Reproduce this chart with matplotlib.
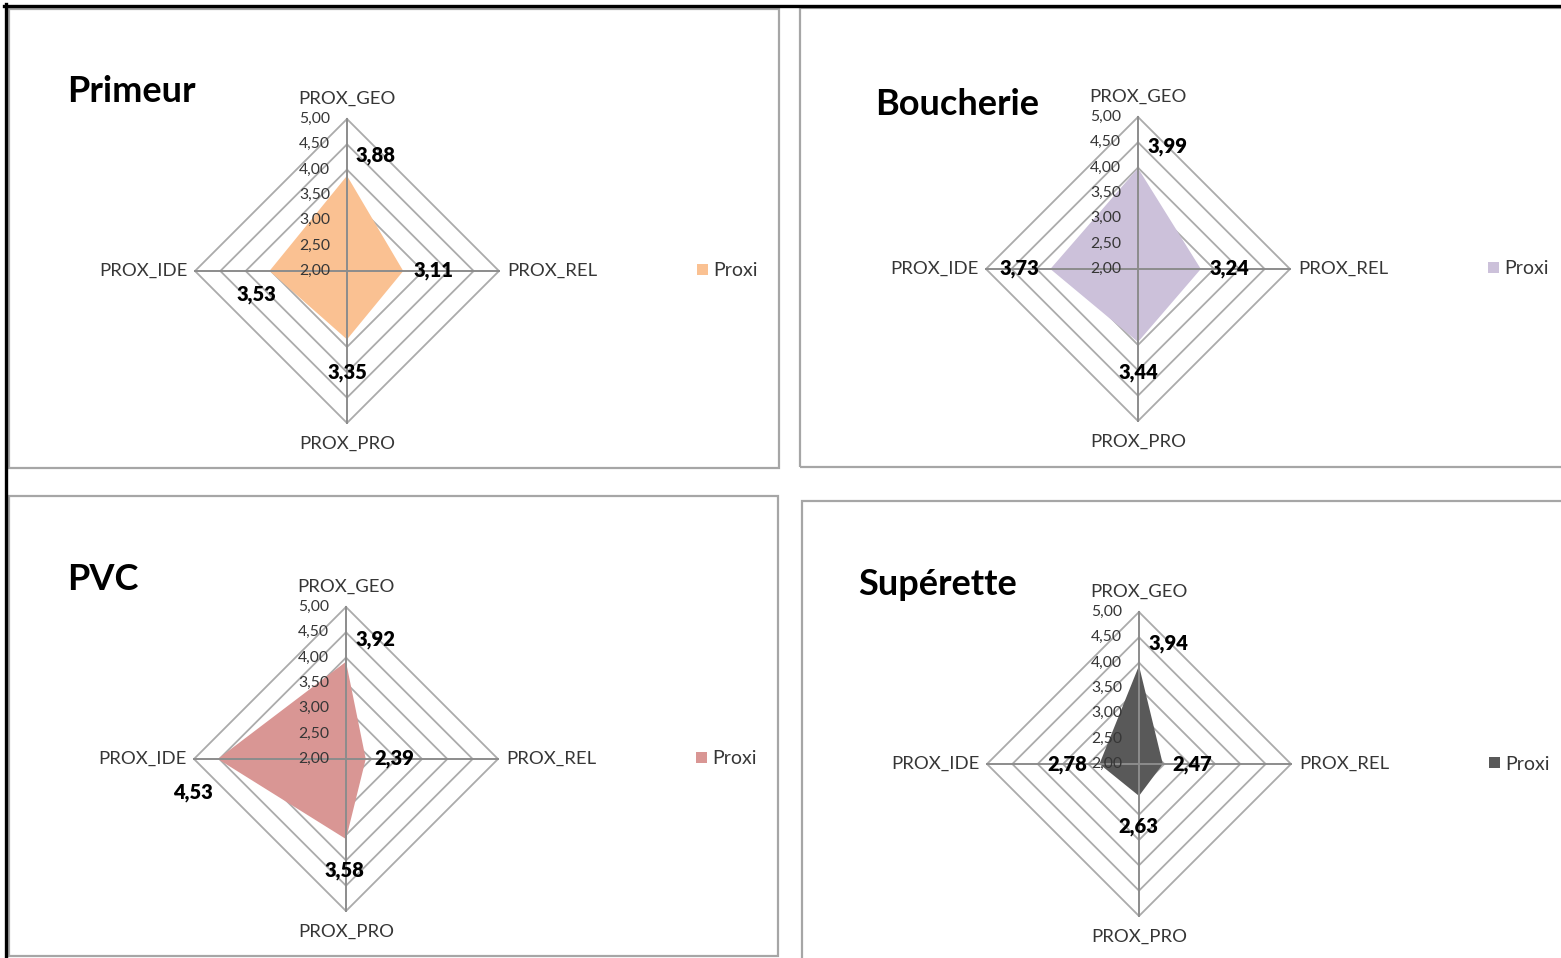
import numpy as np
import matplotlib
matplotlib.use("Agg")
import matplotlib.pyplot as plt
from matplotlib.patches import Rectangle, Patch

# ---- data -------------------------------------------------------------
axes_labels = ["PROX_GEO", "PROX_REL", "PROX_PRO", "PROX_IDE"]
series_name = "Proxi"
shops = ["Primeur", "Boucherie", "PVC", "Supérette"]

primeur = [3.88, 3.11, 3.35, 3.53]
boucherie = [3.99, 3.24, 3.44, 3.73]
pvc = [3.92, 2.39, 3.58, 4.53]
superette = [3.94, 2.47, 2.63, 2.78]

scale_levels = [2.0, 2.5, 3.0, 3.5, 4.0, 4.5, 5.0]

# ---- layout -----------------------------------------------------------
W, H = 1561, 958
plt.rcParams["font.family"] = ["Lato", "DejaVu Sans"]

fig = plt.figure(figsize=(W / 100, H / 100), dpi=100)
fig.patch.set_facecolor("white")


def fx(x):
    return x / W


def fy(y):
    return 1 - y / H


panels = [
    dict(name=shops[0], vals=primeur, color="#FAC192",
         center=(347, 271), box=(9, 9, 779, 468), title=(67, 102),
         legend=(697, 271),
         offs=[(29, 20), (30, 0), (0, -33), (-13, -24)]),
    dict(name=shops[1], vals=boucherie, color="#CCC1DA",
         center=(1138, 269), box=(800, 8, 1575, 467), title=(875, 115),
         legend=(1488, 269),
         offs=[(30, 22), (29, 0), (0, -31), (-31, 0)]),
    dict(name=shops[2], vals=pvc, color="#D99694",
         center=(346, 759), box=(9, 496, 778, 956), title=(67, 590),
         legend=(696, 759),
         offs=[(29, 22), (29, 0), (-2, -31), (-25, -33)]),
    dict(name=shops[3], vals=superette, color="#595959",
         center=(1139, 764), box=(802, 501, 1575, 975), title=(858, 595),
         legend=(1489, 764),
         offs=[(29, 22), (29, 0), (-1, -31), (-32, 0)]),
]

R = 152
thetas = np.array([0, np.pi / 2, np.pi, 3 * np.pi / 2])
closed = np.append(thetas, thetas[0])

grid_col = "#ABABAB"
spoke_col = "#8C8C8C"
text_col = "#363636"

for p in panels:
    # panel frame
    x0, y0, x1, y1 = p["box"]
    fig.add_artist(Rectangle((fx(x0), fy(y1)), fx(x1) - fx(x0), fy(y0) - fy(y1),
                             transform=fig.transFigure, fill=False,
                             edgecolor="#A6A6A6", linewidth=1.6, zorder=0))

    cx, cy = p["center"]
    ax = fig.add_axes([fx(cx - R), fy(cy + R), fx(2 * R), 2 * R / H],
                      projection="polar")
    ax.set_theta_zero_location("N")
    ax.set_theta_direction(-1)
    ax.set_ylim(2, 5)
    ax.grid(False)
    ax.set_xticks([])
    ax.set_yticks([])
    ax.spines["polar"].set_visible(False)
    ax.patch.set_visible(False)

    # concentric rings
    for lv in scale_levels[1:]:
        ax.plot(closed, [lv] * 5, color=grid_col, lw=1.3, zorder=1,
                clip_on=False)

    # filled series
    vals = p["vals"]
    ax.fill(closed, vals + [vals[0]], color=p["color"], lw=0, zorder=2,
            clip_on=False)

    # spokes
    for t in thetas:
        ax.plot([t, t], [2, 5], color=spoke_col, lw=1.4, zorder=3,
                clip_on=False)

    # scale labels along the top spoke
    for lv in scale_levels:
        ax.annotate(f"{lv:.2f}".replace(".", ","), xy=(0, lv),
                    xytext=(-17, 0), textcoords="offset pixels",
                    ha="right", va="center", fontsize=11.3, color=text_col,
                    zorder=4)

    # category labels
    cat_pos = [((0, 20), "center", "center"), ((8, 0), "left", "center"),
               ((0, -21), "center", "center"), ((-7, 0), "right", "center")]
    for t, lab, (off, ha, va) in zip(thetas, axes_labels, cat_pos):
        ax.annotate(lab, xy=(t, 5), xytext=off, textcoords="offset pixels",
                    ha=ha, va=va, fontsize=13.3, color=text_col)

    # value labels
    for t, v, off in zip(thetas, vals, p["offs"]):
        ax.annotate(f"{v:.2f}".replace(".", ","), xy=(t, v), xytext=off,
                    textcoords="offset pixels", ha="center", va="center",
                    fontsize=14.5, fontweight="heavy", color="black", zorder=5)

    # title
    tx, ty = p["title"]
    fig.text(fx(tx), fy(ty), p["name"], ha="left", va="baseline",
             fontsize=26, fontweight="bold", color="black")

    # legend
    lx, ly = p["legend"]
    leg = fig.legend(handles=[Patch(facecolor=p["color"], edgecolor="none",
                                    label=series_name)],
                     loc="center left", bbox_to_anchor=(fx(lx), fy(ly)),
                     frameon=False, fontsize=14, handlelength=0.55,
                     handleheight=0.55, handletextpad=0.3, borderpad=0,
                     borderaxespad=0)
    for txt in leg.get_texts():
        txt.set_color(text_col)

# outer black frame (top and left edges)
fig.add_artist(plt.Line2D([fx(4), 1.0], [fy(6), fy(6)],
                          transform=fig.transFigure, color="black", lw=2.4))
fig.add_artist(plt.Line2D([fx(6), fx(6)], [fy(4), 0.0],
                          transform=fig.transFigure, color="black", lw=2.4))

fig.savefig("out.png", dpi=100, facecolor="white")
